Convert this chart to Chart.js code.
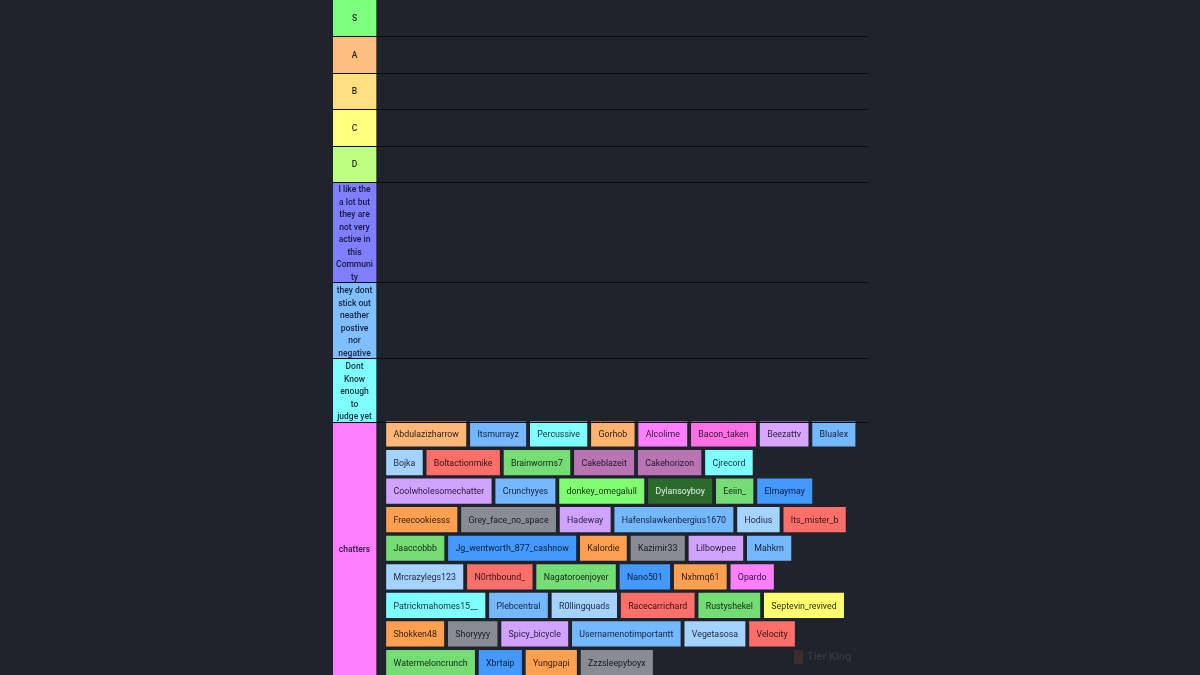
<!DOCTYPE html>
<html>
<head>
<meta charset="utf-8">
<title>Tier list</title>
<script src="https://cdn.jsdelivr.net/npm/chart.js@4/dist/chart.umd.min.js"></script>
<style>
    html, body { margin: 0; height: 100%; background: #1f232c; overflow: hidden; }
    #board { position: absolute; left: 333px; top: 0; width: 535px; height: 675px; }
</style>
</head>
<body>
<div id="board"><canvas id="tier-graph" width="535" height="675"></canvas></div>
<script>
// tier column, top to bottom
var tierLabels = [
    ['S'], ['A'], ['B'], ['C'], ['D'],
    ['I like the', 'a lot but', 'they are', 'not very', 'active in', 'this', 'Communi', 'ty'],
    ['they dont', 'stick out', 'neather', 'postive', 'nor', 'negative'],
    ['Dont', 'Know', 'enough', 'to', 'judge yet'],
    ['chatters']
];
var tierHeights = [36.5, 36.5, 36.5, 36.5, 36.5, 100, 76.5, 63, 253];
var tierColours = ['#7fff7f', '#ffbf7f', '#ffdf7f', '#ffff7f', '#bfff7f', '#7f7fff', '#7fbfff', '#7fffff', '#ff7fff'];

// everybody still sitting in the last tier, one list per line
var chatterRows = [
    ['Abdulazizharrow', 'Itsmurrayz', 'Percussive', 'Gorhob', 'Alcolime', 'Bacon_taken', 'Beezattv', 'Blualex'],
    ['Bojka', 'Boltactionmike', 'Brainworms7', 'Cakeblazeit', 'Cakehorizon', 'Cjrecord'],
    ['Coolwholesomechatter', 'Crunchyyes', 'donkey_omegalull', 'Dylansoyboy', 'Eeiin_', 'Elmaymay'],
    ['Freecookiesss', 'Grey_face_no_space', 'Hadeway', 'Hafenslawkenbergius1670', 'Hodius', 'Its_mister_b'],
    ['Jaaccobbb', 'Jg_wentworth_877_cashnow', 'Kalordie', 'Kazimir33', 'Lilbowpee', 'Mahkrn'],
    ['Mrcrazylegs123', 'N0rthbound_', 'Nagatoroenjoyer', 'Nano501', 'Nxhmq61', 'Opardo'],
    ['Patrickmahomes15__', 'Plebcentral', 'R0llingquads', 'Racecarrichard', 'Rustyshekel', 'Septevin_revived'],
    ['Shokken48', 'Shoryyyy', 'Spicy_bicycle', 'Usernamenotimportantt', 'Vegetasosa', 'Velocity'],
    ['Watermeloncrunch', 'Xbrtaip', 'Yungpapi', 'Zzzsleepyboyx']
];
var chatterColours = [
    ['#ffb777', '#74b6ff', '#7fffff', '#ffb36e', '#ff7fff', '#ff70e4', '#d8a5ff', '#74b8ff'],
    ['#a5d3ff', '#ff6f6a', '#74dd74', '#b974b4', '#b974b4', '#7fffff'],
    ['#cfa3ff', '#74b8ff', '#7fff6f', '#2a6a2a', '#74dd74', '#4499ff'],
    ['#ffa050', '#888d94', '#cfa3ff', '#74b8ff', '#a5d3ff', '#ff6f6a'],
    ['#74dd74', '#4499ff', '#ffa050', '#888d94', '#cfa3ff', '#74b8ff'],
    ['#a5d3ff', '#ff6f6a', '#74dd74', '#4499ff', '#ffa050', '#ff7fff'],
    ['#7fffff', '#74b8ff', '#a5d3ff', '#ff6f6a', '#74dd74', '#ffff6f'],
    ['#ffa050', '#888d94', '#cfa3ff', '#74b8ff', '#a5d3ff', '#ff6f6a'],
    ['#74dd74', '#4499ff', '#ffa050', '#888d94']
];

var chipFont = '8.8px Roboto';
var tierFont = '500 8.5px Roboto';
var measure = document.createElement('canvas').getContext('2d');
measure.font = chipFont;

function darken(hex) {
    var n = parseInt(hex.slice(1), 16);
    var r = n >> 16, g = (n >> 8) & 255, b = n & 255;
    if (r + g + b < 300) { return '#e8efe8'; }
    return 'rgb(' + Math.round(r * 0.18) + ',' + Math.round(g * 0.18) + ',' + Math.round(b * 0.22) + ')';
}

// boundaries of the tiers, they also give the separator lines
var tierEdges = [0];
tierHeights.forEach(function (h, i) { tierEdges.push(tierEdges[i] + h); });

var datasets = tierHeights.map(function (h, i) {
    return {
        data: [{ x: [0, 43], y: tierEdges[i] + h / 2 }],
        backgroundColor: tierColours[i],
        barThickness: h,
        texts: [tierLabels[i]]
    };
});

// chips flow left to right, width comes from the text
var chipData = [], chipFill = [], chipText = [];
chatterRows.forEach(function (row, r) {
    var left = 53.5;
    row.forEach(function (name, c) {
        var w = measure.measureText(name).width + 14;
        chipData.push({ x: [left, left + w], y: tierEdges[8] + 12 + r * 28.56 });
        chipFill.push(chatterColours[r][c]);
        chipText.push([name]);
        left += w + 4.5;
    });
});
datasets.push({ data: chipData, backgroundColor: chipFill, barThickness: 24.5, texts: chipText, chip: true });

var labelPlugin = {
    id: 'barLabels',
    afterDatasetsDraw: function (chart) {
        var ctx = chart.ctx;
        ctx.save();
        ctx.textAlign = 'center';
        ctx.textBaseline = 'middle';
        chart.data.datasets.forEach(function (ds, d) {
            ctx.font = ds.chip ? chipFont : tierFont;
            chart.getDatasetMeta(d).data.forEach(function (bar, i) {
                var lines = ds.texts[i];
                var fill = Array.isArray(ds.backgroundColor) ? ds.backgroundColor[i] : ds.backgroundColor;
                var cx = (bar.x + bar.base) / 2;
                var top = bar.y + 1 - (lines.length - 1) * 6.25 + (lines.length > 1 ? 0.5 : 0);
                ctx.fillStyle = darken(fill);
                lines.forEach(function (line, l) {
                    ctx.fillText(line, cx, top + l * 12.5);
                });
            });
        });
        // faded site mark in the corner
        ctx.fillStyle = '#3b2c30';
        ctx.fillRect(461, 650, 9, 14);
        ctx.fillStyle = '#353942';
        ctx.font = '500 11px Roboto';
        ctx.textAlign = 'left';
        ctx.fillText('Tier King', 474, 657);
        ctx.restore();
    }
};

var myChart = new Chart(document.getElementById('tier-graph').getContext('2d'), {
    type: 'bar',
    data: { datasets: datasets },
    plugins: [labelPlugin],
    options: {
        indexAxis: 'y',
        responsive: false,
        animation: false,
        layout: { padding: 0 },
        plugins: { legend: { display: false }, tooltip: { enabled: false } },
        scales: {
            x: { type: 'linear', min: 0, max: 535, display: false },
            y: {
                type: 'linear',
                min: 0,
                max: 675,
                reverse: true,
                stacked: true,
                offset: false,
                border: { display: false },
                ticks: { display: false },
                afterBuildTicks: function (axis) {
                    axis.ticks = tierEdges.slice(1, -1).map(function (v) { return { value: v }; });
                },
                grid: { color: '#0b0c10', lineWidth: 1, offset: false, drawTicks: false, z: 1 }
            }
        }
    }
});
</script>
</body>
</html>
